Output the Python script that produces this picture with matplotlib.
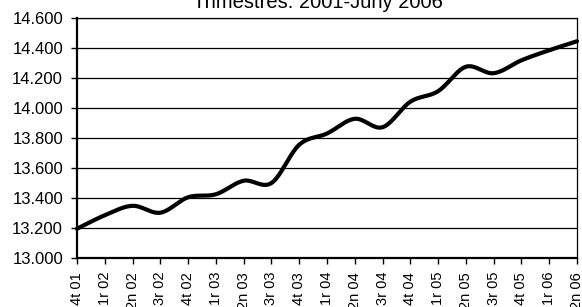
import numpy as np
import matplotlib
matplotlib.use("Agg")
import matplotlib.pyplot as plt
from matplotlib.ticker import FuncFormatter

plt.rcParams['font.family'] = ['Liberation Sans', 'DejaVu Sans']

# quarterly series
quarters = ["4t 01", "1r 02", "2n 02", "3r 02", "4t 02", "1r 03", "2n 03", "3r 03",
            "4t 03", "1r 04", "2n 04", "3r 04", "4t 04", "1r 05", "2n 05", "3r 05",
            "4t 05", "1r 06", "2n 06"]
values = [13195, 13285, 13348, 13302, 13405, 13425, 13515, 13500,
          13755, 13830, 13928, 13872, 14042, 14112, 14275, 14232,
          14318, 14385, 14445]
title = "Trimestres: 2001-Juny 2006"


def smooth(x, y, steps=20):
    # Excel-style smoothed line (Catmull-Rom through every point)
    x = np.asarray(x, float)
    y = np.asarray(y, float)
    px = np.concatenate([[x[0]], x, [x[-1]]])
    py = np.concatenate([[y[0]], y, [y[-1]]])
    xs, ys = [], []
    t = np.linspace(0, 1, steps, endpoint=False)
    for i in range(1, len(px) - 2):
        p0, p1, p2, p3 = px[i - 1], px[i], px[i + 1], px[i + 2]
        q0, q1, q2, q3 = py[i - 1], py[i], py[i + 1], py[i + 2]
        b1x, b1y = p1 + (p2 - p0) / 6, q1 + (q2 - q0) / 6
        b2x, b2y = p2 - (p3 - p1) / 6, q2 - (q3 - q1) / 6
        xs.append((1 - t) ** 3 * p1 + 3 * (1 - t) ** 2 * t * b1x + 3 * (1 - t) * t ** 2 * b2x + t ** 3 * p2)
        ys.append((1 - t) ** 3 * q1 + 3 * (1 - t) ** 2 * t * b1y + 3 * (1 - t) * t ** 2 * b2y + t ** 3 * q2)
    xs.append([x[-1]])
    ys.append([y[-1]])
    return np.concatenate(xs), np.concatenate(ys)


fig = plt.figure(figsize=(5.82, 3.07), dpi=100)
ax = fig.add_axes([77 / 582, 49 / 307, 500 / 582, 240 / 307])

idx = np.arange(len(quarters))
sx, sy = smooth(idx, values)
ax.plot(sx, sy, color="black", lw=3, solid_capstyle="round", zorder=3, clip_on=False)

ax.set_xlim(0, len(quarters) - 1)
ax.set_ylim(13000, 14600)
ax.set_yticks(np.arange(13000, 14601, 200))
ax.yaxis.set_major_formatter(FuncFormatter(lambda v, p: format(int(v), ",").replace(",", ".")))
ax.set_xticks(idx)
ax.set_xticklabels(quarters, rotation=90, fontsize=10.5)
ax.tick_params(axis="y", labelsize=12, length=4, width=1, pad=6)
ax.tick_params(axis="x", length=4, width=1, pad=6)
ax.grid(axis="y", color="black", lw=0.9)
ax.set_axisbelow(True)

for s in ["left", "bottom"]:
    ax.spines[s].set_linewidth(1.6)
for s in ["top", "right"]:
    ax.spines[s].set_linewidth(0.9)

fig.text(318 / 582, 1 - 8 / 307, title, ha="center", va="baseline", fontsize=14.5)

fig.savefig("out.png", dpi=100)
